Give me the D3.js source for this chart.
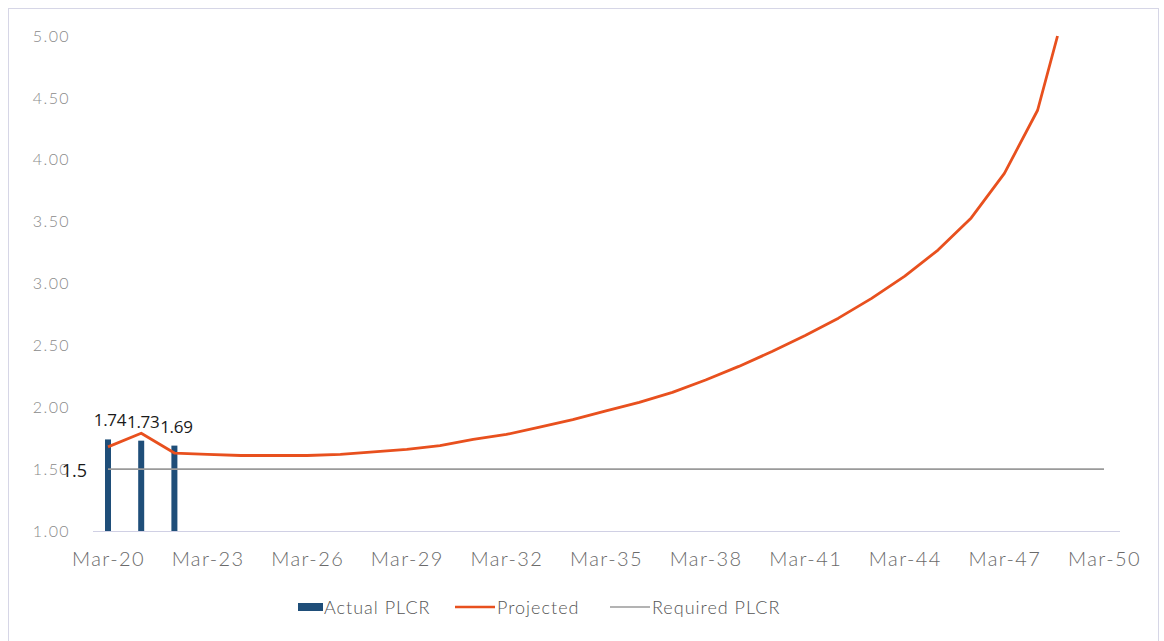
<!DOCTYPE html>
<html>
<head>
<meta charset="utf-8">
<script src="https://cdn.jsdelivr.net/npm/d3@7"></script>
<style>
  html, body { margin: 0; padding: 0; background: #fff; }
  svg { display: block; }
</style>
</head>
<body>
<svg id="chart" width="1164" height="641"></svg>
<script>
// ---- data ----
const tickLabels = ["Mar-20","Mar-23","Mar-26","Mar-29","Mar-32","Mar-35","Mar-38","Mar-41","Mar-44","Mar-47","Mar-50"];
const tickYears = [0,3,6,9,12,15,18,21,24,27,30];           // years since Mar-20
const actualYears = [0, 1, 2];
const actualValues = [1.74, 1.73, 1.69];
const projectedYears = [0,1,2,3,4,5,6,7,8,9,10,11,12,13,14,15,16,17,18,19,20,21,22,23,24,25,26,27,28,28.6];
const projectedValues = [1.68,1.79,1.63,1.62,1.61,1.61,1.61,1.62,1.64,1.66,1.69,1.74,1.78,1.84,1.90,1.97,2.04,2.12,2.22,2.33,2.45,2.58,2.72,2.88,3.06,3.27,3.53,3.89,4.40,5.00];
const requiredYears = [0, 30];
const requiredValues = [1.5, 1.5];
const yTicks = [1.00,1.50,2.00,2.50,3.00,3.50,4.00,4.50,5.00];
const seriesNames = ["Actual PLCR","Projected","Required PLCR"];

// ---- drawing ----
const svg = d3.select("#chart");
const colBar = "#1f4e79", colProj = "#e8501e", colReq = "#9a9a9a";
const axisFont = "Lato, 'Open Sans', sans-serif";

svg.append("rect").attr("x", 8.5).attr("y", 8.5).attr("width", 1150).attr("height", 640)
  .attr("fill", "none").attr("stroke", "#d6d6e6").attr("stroke-width", 1);

const x = d3.scaleLinear().domain([0, 30]).range([108, 1104]);
const y = d3.scaleLinear().domain([1, 5]).range([531, 36]);

// y axis labels
const yAxis = d3.axisLeft(y).tickValues(yTicks).tickFormat(d3.format(".2f")).tickSize(0).tickPadding(0);
const gy = svg.append("g").attr("transform", "translate(70,0)").call(yAxis);
gy.select(".domain").remove();
gy.selectAll("text").attr("font-family", axisFont).attr("font-weight", 300)
  .attr("font-size", 16).attr("fill", "#8a8a8a").attr("letter-spacing", "1.4px");

// x axis baseline
svg.append("line").attr("x1", 93).attr("x2", 1120).attr("y1", 531.5).attr("y2", 531.5)
  .attr("stroke", "#d0d0e4").attr("stroke-width", 1);

const xAxis = d3.axisBottom(x).tickValues(tickYears).tickFormat((d, i) => tickLabels[i]).tickSize(0).tickPadding(0);
const gx = svg.append("g").attr("transform", "translate(0,566)").call(xAxis);
gx.select(".domain").remove();
gx.selectAll("text").attr("dy", 0).attr("font-family", axisFont).attr("font-weight", 300)
  .attr("font-size", 20).attr("fill", "#6a6a6a").attr("letter-spacing", "1.4px");

// bars
const barW = 6;
svg.append("g").selectAll("rect").data(actualValues).join("rect")
  .attr("x", (d, i) => x(actualYears[i]) - barW / 2)
  .attr("y", d => y(d))
  .attr("width", barW)
  .attr("height", d => y(1) - y(d))
  .attr("fill", colBar);

// required line
svg.append("path")
  .datum(requiredValues.map((v, i) => [requiredYears[i], v]))
  .attr("d", d3.line().x(d => x(d[0])).y(d => y(d[1])))
  .attr("fill", "none").attr("stroke", colReq).attr("stroke-width", 1.6);

// projected line
svg.append("path")
  .datum(projectedValues.map((v, i) => [projectedYears[i], v]))
  .attr("d", d3.line().x(d => x(d[0])).y(d => y(d[1])))
  .attr("fill", "none").attr("stroke", colProj).attr("stroke-width", 2.8)
  .attr("stroke-linejoin", "round");

// data labels
const lblFont = "'Open Sans', 'Noto Sans', sans-serif";
svg.append("g").selectAll("text").data(actualValues).join("text")
  .attr("x", (d, i) => x(actualYears[i]) + 2)
  .attr("y", d => y(d) - 13)
  .attr("text-anchor", "middle")
  .attr("font-family", lblFont).attr("font-size", 17).attr("fill", "#1a1a1a")
  .attr("letter-spacing", "-0.3px")
  .text(d => d.toFixed(2));

svg.append("text").attr("x", 87).attr("y", y(requiredValues[0]) + 8)
  .attr("text-anchor", "end")
  .attr("font-family", lblFont).attr("font-size", 18).attr("fill", "#1a1a1a")
  .text(String(requiredValues[0]));

// legend
const lg = svg.append("g").attr("font-family", axisFont).attr("font-weight", 300)
  .attr("font-size", 18).attr("fill", "#555").attr("letter-spacing", "1px");
lg.append("rect").attr("x", 298).attr("y", 603).attr("width", 25).attr("height", 8).attr("fill", colBar);
lg.append("text").attr("x", 324).attr("y", 614).text(seriesNames[0]);
lg.append("line").attr("x1", 455).attr("x2", 495).attr("y1", 607).attr("y2", 607)
  .attr("stroke", colProj).attr("stroke-width", 2.5);
lg.append("text").attr("x", 497).attr("y", 614).text(seriesNames[1]);
lg.append("line").attr("x1", 610).attr("x2", 650).attr("y1", 607).attr("y2", 607)
  .attr("stroke", colReq).attr("stroke-width", 1.6);
lg.append("text").attr("x", 652).attr("y", 614).text(seriesNames[2]);
</script>
</body>
</html>
